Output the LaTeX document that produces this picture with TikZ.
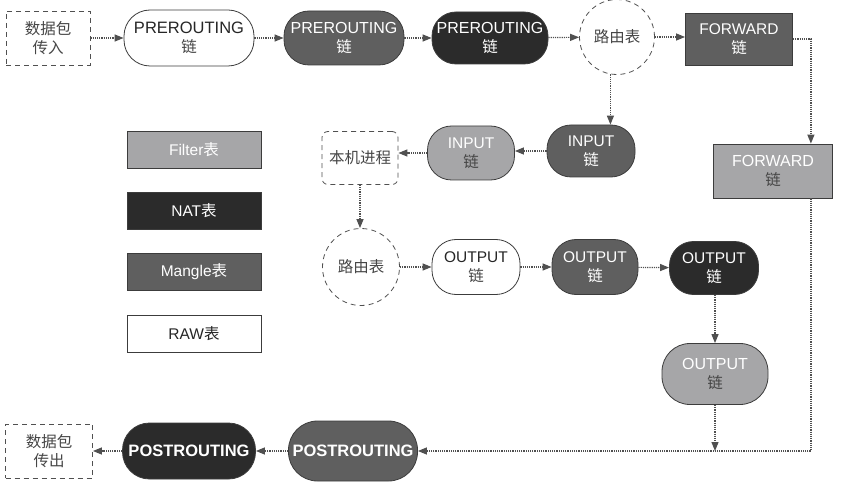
\documentclass[tikz,border=0pt]{standalone}
\usepackage{fontspec}
\setmainfont{Liberation Sans}
\newfontfamily\cjk{Noto Sans CJK SC}
\usepackage{tikz}
\usetikzlibrary{arrows.meta,positioning,calc}
\definecolor{ipfilter}{RGB}{166,166,168}
\definecolor{ipnat}{RGB}{43,43,43}
\definecolor{ipmangle}{RGB}{95,95,95}
\definecolor{ipedge}{RGB}{60,60,60}
\definecolor{iparrow}{RGB}{80,80,80}
\definecolor{iptext}{RGB}{70,70,70}

\begin{document}
\begin{tikzpicture}[x=1pt,y=-1pt,
  ipchain/.style={draw=ipedge,line width=0.8pt,rounded corners=24pt,
    minimum width=88pt,minimum height=54pt,align=center,inner sep=2pt,
    font=\fontsize{15.5}{19}\selectfont},
  filterchain/.style={ipchain,fill=ipfilter,text=white},
  natchain/.style={ipchain,fill=ipnat,text=white},
  manglechain/.style={ipchain,fill=ipmangle,text=white},
  rawchain/.style={ipchain,fill=white,text=black!85},
  legendbox/.style={draw=ipedge,line width=0.8pt,minimum width=134pt,
    minimum height=37pt,font=\fontsize{15.5}{19}\selectfont},
  dashbox/.style={draw=iparrow,dash pattern=on 5pt off 4pt,line width=0.8pt,
    align=center,text=iptext,inner sep=2pt,font=\cjk\fontsize{15.5}{19}\selectfont},
  routecircle/.style={circle,draw=iparrow,dash pattern=on 5pt off 4pt,line width=0.8pt,
    minimum size=75pt,inner sep=0pt,text=iptext,font=\cjk\fontsize{15.5}{19}\selectfont},
  flow/.style={draw=iparrow,line width=1.2pt,densely dotted,
    -{Triangle[length=9pt,width=7pt]}}
]
  \useasboundingbox (0,0) rectangle (841,489);

  % Incoming path
  \node[dashbox,minimum width=84pt,minimum height=54pt] (in) at (48,38) {数据包\\传入};
  \node[rawchain,minimum width=130pt,minimum height=56pt,rounded corners=26pt] (pre1) at (189,38)
    {\fontsize{16.5}{19}\selectfont PREROUTING\\{\color{iptext}\cjk 链}};
  \node[manglechain,minimum width=120pt,rounded corners=25pt] (pre2) at (344,38)
    {\fontsize{16}{19}\selectfont PREROUTING\\{\cjk 链}};
  \node[natchain,minimum width=116pt,minimum height=52pt] (pre3) at (490,38)
    {\fontsize{16}{19}\selectfont PREROUTING\\{\cjk 链}};
  \node[routecircle] (rt1) at (617,37) {路由表};
  \node[manglechain,rounded corners=0pt,minimum width=107pt,minimum height=52pt] (fwd1) at (739,39)
    {FORWARD\\{\cjk 链}};
  \node[filterchain,rounded corners=0pt,minimum width=119pt] (fwd2) at (773,171)
    {\fontsize{16}{19}\selectfont FORWARD\\{\color{iptext}\cjk 链}};

  % Local input
  \node[manglechain,minimum height=52pt] (in1) at (591,151) {INPUT\\{\cjk 链}};
  \node[filterchain,minimum width=87pt] (in2) at (471,153) {INPUT\\{\color{iptext}\cjk 链}};
  \node[dashbox,rounded corners=6pt,minimum width=76pt,minimum height=53pt] (host) at (360,158) {本机进程};

  % Local output
  \node[routecircle,minimum size=77pt] (rt2) at (361,267) {路由表};
  \node[rawchain,minimum height=55pt] (out1) at (476,267) {OUTPUT\\{\color{iptext}\cjk 链}};
  \node[manglechain,minimum width=86pt,minimum height=55pt] (out2) at (595,267) {OUTPUT\\{\cjk 链}};
  \node[natchain,minimum width=89pt,minimum height=53pt] (out3) at (714,268) {OUTPUT\\{\cjk 链}};
  \node[filterchain,minimum width=106pt,minimum height=61pt,rounded corners=28pt] (out4) at (715,374)
    {\fontsize{16}{19}\selectfont OUTPUT\\{\color{iptext}\cjk 链}};

  % Outgoing path
  \node[manglechain,minimum width=129pt,minimum height=60pt,rounded corners=29pt] (post1) at (353,451)
    {\fontsize{16.5}{19}\selectfont\bfseries POSTROUTING};
  \node[natchain,minimum width=133pt,minimum height=56pt,rounded corners=27pt] (post2) at (189,451)
    {\fontsize{16.5}{19}\selectfont\bfseries POSTROUTING};
  \node[dashbox,minimum width=87pt,minimum height=54pt] (out) at (49,451) {数据包\\传出};

  % Legend
  \node[legendbox,fill=ipfilter,text=white] (filterkey) at (194,150) {Filter{\cjk 表}};
  \node[legendbox,fill=ipnat,text=white] (natkey) at (194,211) {NAT{\cjk 表}};
  \node[legendbox,fill=ipmangle,text=white] (manglekey) at (194,272) {Mangle{\cjk 表}};
  \node[legendbox,fill=white,text=black!85] (rawkey) at (194,334) {RAW{\cjk 表}};

  % Connectors
  \draw[flow] (in) -- (pre1);
  \draw[flow] (pre1) -- (pre2);
  \draw[flow] (pre2) -- (pre3);
  \draw[flow] (pre3) -- (rt1);
  \draw[flow] (rt1) -- (rt1 -| fwd1.west);
  \draw[flow] (rt1.-100) -- (rt1.-100 |- in1.north);
  \coordinate (fwdx) at ($(fwd2.north east)+(-22,0)$);
  \draw[flow] (fwd1.east) -| (fwdx);
  \draw[flow] (in1) -- (in1 -| in2.east);
  \draw[flow] (in2) -- (in2 -| host.east);
  \draw[flow] (host.south) -- (host.south |- rt2.north);
  \draw[flow] (rt2) -- (out1);
  \draw[flow] (out1) -- (out2);
  \draw[flow] (out2) -- (out3);
  \draw[flow] (out3.south -| out4) -- (out4);
  \coordinate (merge) at (out4.south |- post1.east);
  \draw[flow] (out4.south) -- (merge);
  \draw[flow] (fwdx |- fwd2.south) |- (post1.east);
  \draw[flow] (post1) -- (post2);
  \draw[flow] (post2) -- (out);
\end{tikzpicture}
\end{document}
